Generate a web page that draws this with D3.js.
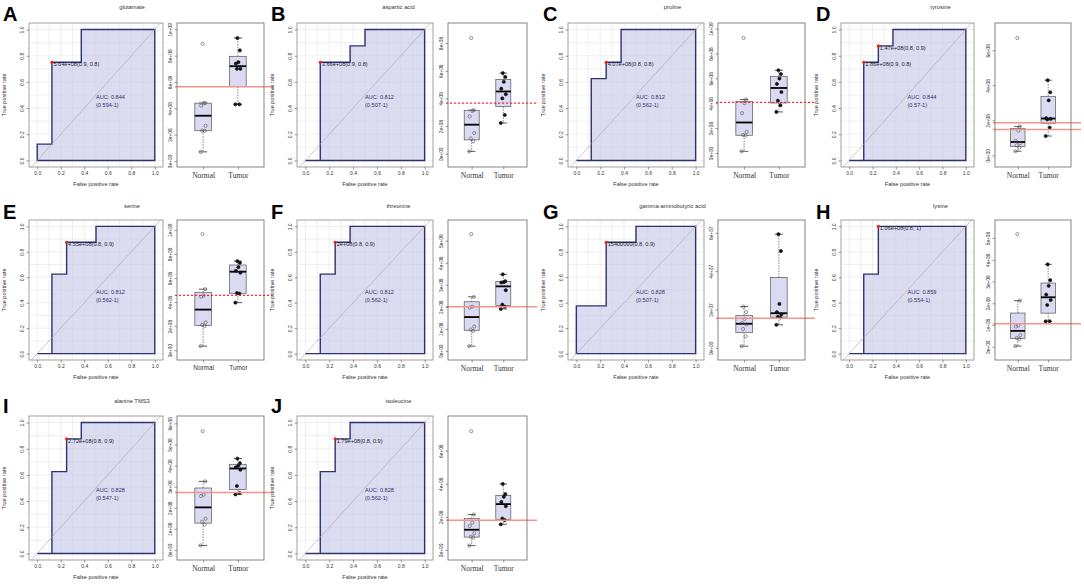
<!DOCTYPE html>
<html>
<head>
<meta charset="utf-8">
<script src="https://cdn.jsdelivr.net/npm/d3@7"></script>
<style>
  body { margin: 0; background: #fff; }
  svg { display: block; font-family: "Liberation Sans", Arial, sans-serif; }
</style>
</head>
<body>
<svg id="fig" width="1084" height="586"></svg>
<script>
// ---- data ----
const LETTERS = ['A', 'B', 'C', 'D', 'E', 'F', 'G', 'H', 'I', 'J'];
const TITLES = ['glutamate', 'aspartic acid', 'proline', 'tyrosine', 'serine', 'threonine',
  'gamma-aminobutyric acid', 'lysine', 'alanine TMS3', 'isoleucine'];
const AUC = ['0.844', '0.812', '0.812', '0.844', '0.812', '0.812', '0.828', '0.859', '0.828', '0.828'];
const AUC_CI = ['0.594-1', '0.507-1', '0.562-1', '0.57-1', '0.562-1', '0.562-1', '0.507-1', '0.554-1', '0.547-1', '0.562-1'];

// ROC step curves (false positive rate, true positive rate)
const ROC_FPR = [
  [0, 0, 0.125, 0.125, 0.375, 0.375, 1],
  [0, 0.125, 0.125, 0.375, 0.375, 0.5, 0.5, 1],
  [0, 0.125, 0.125, 0.25, 0.25, 0.375, 0.375, 1],
  [0, 0.125, 0.125, 0.25, 0.25, 0.375, 0.375, 1],
  [0, 0.125, 0.125, 0.25, 0.25, 0.5, 0.5, 1],
  [0, 0.125, 0.125, 0.25, 0.25, 0.375, 0.375, 1],
  [0, 0, 0.25, 0.25, 0.5, 0.5, 1],
  [0, 0.125, 0.125, 0.25, 0.25, 1],
  [0, 0.125, 0.125, 0.25, 0.25, 0.375, 0.375, 1],
  [0, 0.125, 0.125, 0.25, 0.25, 0.375, 0.375, 1]
];
const ROC_TPR = [
  [0, 0.125, 0.125, 0.75, 0.75, 1, 1],
  [0, 0, 0.75, 0.75, 0.875, 0.875, 1, 1],
  [0, 0, 0.625, 0.625, 0.75, 0.75, 1, 1],
  [0, 0, 0.75, 0.75, 0.875, 0.875, 1, 1],
  [0, 0, 0.625, 0.625, 0.875, 0.875, 1, 1],
  [0, 0, 0.625, 0.625, 0.875, 0.875, 1, 1],
  [0, 0.375, 0.375, 0.875, 0.875, 1, 1],
  [0, 0, 0.625, 0.625, 1, 1],
  [0, 0, 0.625, 0.625, 0.875, 0.875, 1, 1],
  [0, 0, 0.625, 0.625, 0.875, 0.875, 1, 1]
];

// best cut-off points on the curve
const CUT_FPR = [[0.125], [0.125], [0.25], [0.125, 0.25], [0.25], [0.25], [0.25], [0.25], [0.25], [0.25]];
const CUT_TPR = [[0.75], [0.75], [0.75], [0.75, 0.875], [0.875], [0.875], [0.875], [1], [0.875], [0.875]];
const CUT_TEXT = [
  ['5.64e+08(0.9, 0.8)'], ['3.66e+08(0.9, 0.8)'], ['4.07e+08(0.8, 0.8)'],
  ['1.86e+08(0.9, 0.8)', '1.47e+08(0.8, 0.9)'], ['4.55e+08(0.8, 0.9)'], ['2e+08(0.8, 0.9)'],
  ['15400000(0.8, 0.9)'], ['1.06e+08(0.8, 1)'], ['2.72e+08(0.8, 0.9)'], ['1.79e+08(0.8, 0.9)']
];
const CUTOFF = [[5.64e8], [3.66e8], [4.07e8], [1.86e8, 1.47e8], [4.55e8], [2e8], [1.54e7], [1.06e8], [2.72e8], [1.79e8]];
const CUT_DASHED = [false, true, true, false, true, false, false, false, false, false];

// boxplot samples
const NORMAL = [
  [6.9e7, 2.29e8, 2.3e8, 2.67e8, 4.2e8, 4.38e8, 4.4e8, 8.9e8],
  [1.7e7, 9e7, 1.1e8, 1.5e8, 2.7e8, 3.1e8, 3.15e8, 8.36e8],
  [1.3e7, 1.4e8, 1.45e8, 1.7e8, 3.2e8, 4.0e8, 4.3e8, 9.25e8],
  [2.3e7, 4.5e7, 5.7e7, 7.0e7, 8.2e7, 1.4e8, 1.65e8, 6.7e8],
  [3.3e7, 2.0e8, 2.1e8, 2.3e8, 4.44e8, 4.55e8, 5.07e8, 9.64e8],
  [2.1e7, 9e7, 9.6e7, 1.1e8, 1.96e8, 2.0e8, 2.45e8, 5.3e8],
  [8.6e5, 6.0e6, 9.8e6, 1.22e7, 1.29e7, 1.51e7, 1.86e7, 2.15e7],
  [3e6, 3.5e7, 4.0e7, 5.3e7, 9.3e7, 9.8e7, 2.12e8, 5.18e8],
  [2.1e7, 1.2e8, 1.34e8, 1.48e8, 2.55e8, 2.62e8, 3.25e8, 5.63e8],
  [2.6e7, 7.5e7, 8.0e7, 1.0e8, 1.44e8, 1.65e8, 2.14e8, 7.18e8]
];
const TUMOR = [
  [4.3e8, 4.3e8, 7.0e8, 7.0e8, 7.4e8, 7.5e8, 8.4e8, 9.34e8],
  [2.22e8, 2.8e8, 4.0e8, 4.3e8, 4.7e8, 5.2e8, 5.55e8, 5.83e8],
  [3.3e8, 3.83e8, 4.2e8, 4.9e8, 5.55e8, 5.98e8, 6.35e8, 6.65e8],
  [1.1e8, 1.58e8, 2.05e8, 2.08e8, 2.12e8, 3.14e8, 3.6e8, 4.29e8],
  [3.95e8, 4.7e8, 4.75e8, 6.44e8, 6.6e8, 6.9e8, 7.26e8, 7.4e8],
  [1.9e8, 2.0e8, 2.1e8, 2.75e8, 3.1e8, 3.12e8, 3.16e8, 3.47e8],
  [1.2e7, 1.58e7, 1.62e7, 1.75e7, 1.86e7, 2.29e7, 5.05e7, 5.93e7],
  [1.17e8, 1.17e8, 1.92e8, 2.15e8, 2.4e8, 2.8e8, 3.06e8, 3.79e8],
  [2.63e8, 2.7e8, 3.03e8, 3.8e8, 3.92e8, 4.0e8, 4.12e8, 4.33e8],
  [1.55e8, 1.8e8, 1.9e8, 2.64e8, 2.9e8, 3.21e8, 3.38e8, 3.99e8]
];
const GROUPS = ['Normal', 'Tumor'];
const BOX_DOMAIN = [
  [-0.46e8, 10.48e8], [-0.96e8, 9.45e8], [-1.13e8, 10.45e8], [-0.67e8, 7.56e8], [-0.82e8, 10.82e8],
  [-0.42e8, 5.94e8], [-0.636e7, 6.67e7], [-0.61e8, 5.83e8], [-0.48e8, 6.35e8], [-0.61e8, 8.1e8]
];
const BOX_TICKS = [
  [0, 2e8, 4e8, 6e8, 8e8, 1e9], [0, 2e8, 4e8, 6e8, 8e8], [0, 2e8, 4e8, 6e8, 8e8, 1e9],
  [0, 2e8, 4e8, 6e8], [0, 2e8, 4e8, 6e8, 8e8, 1e9], [0, 1e8, 2e8, 3e8, 4e8, 5e8],
  [0, 2e7, 4e7, 6e7], [0, 1e8, 2e8, 3e8, 4e8, 5e8], [0, 1e8, 2e8, 3e8, 4e8, 5e8, 6e8],
  [0, 2e8, 4e8, 6e8]
];
const ROC_TICKS = [0, 0.2, 0.4, 0.6, 0.8, 1.0];

// ---- layout ----
const COL_X = [0, 270, 540, 810];
const ROC_L = [29, 297, 568, 841];
const ROC_R = [163, 433, 704, 974];
const BOX_L = [177, 448, 718, 995];
const BOX_R = [264, 527, 805, 1071];
const ROW_TOP = [23, 220, 416];
const ROW_BOT = [167, 360, 560];
const TITLE_Y = [9, 208, 403];
const LETTER_Y = [21, 219, 413];
const LETTER_X = [3, 271, 543, 816];
const JITTER = [-2.5, 1.5, -1, 2.5, -2, 0.5, 2, -0.5];

const NAVY = '#2d3170';
const svg = d3.select('#fig');

const fmtE = v => v === 0 ? '0e+00' : v.toExponential(0).replace(/e\+(\d)$/, 'e+0$1');

// Tukey hinges, as R's fivenum / boxplot.stats
function boxStats(vals) {
  const s = vals.slice().sort(d3.ascending);
  const n = s.length;
  const n4 = Math.floor((n + 3) / 2) / 2;
  const d = [1, n4, (n + 1) / 2, n + 1 - n4, n];
  const f = d.map(k => 0.5 * (s[Math.floor(k) - 1] + s[Math.ceil(k) - 1]));
  const iqr = f[3] - f[1];
  const lo = d3.min(s.filter(v => v >= f[1] - 1.5 * iqr));
  const hi = d3.max(s.filter(v => v <= f[3] + 1.5 * iqr));
  return { q1: f[1], med: f[2], q3: f[3], lo, hi };
}

function drawRoc(g, i, L, R, T, B) {
  const x = d3.scaleLinear().domain([-0.07, 1.07]).range([L, R]);
  const y = d3.scaleLinear().domain([-0.05, 1.05]).range([B, T]);
  const grid = d3.range(0, 11).map(k => k / 10);

  g.append('g').selectAll('line').data(grid).join('line')
    .attr('x1', d => x(d)).attr('x2', d => x(d)).attr('y1', T).attr('y2', B)
    .attr('stroke', '#e6e6e6').attr('stroke-width', 0.6);
  g.append('g').selectAll('line').data(grid).join('line')
    .attr('y1', d => y(d)).attr('y2', d => y(d)).attr('x1', L).attr('x2', R)
    .attr('stroke', '#e6e6e6').attr('stroke-width', 0.6);

  const pts = ROC_FPR[i].map((f, k) => [x(f), y(ROC_TPR[i][k])]);
  pts.push([x(1), y(0)]);
  g.append('path')
    .attr('d', d3.line()(pts) + 'Z')
    .attr('fill', '#c9c9ea').attr('fill-opacity', 0.65)
    .attr('stroke', NAVY).attr('stroke-width', 1.4);

  g.append('line')
    .attr('x1', x(-0.05)).attr('y1', y(-0.05)).attr('x2', x(1.05)).attr('y2', y(1.05))
    .attr('stroke', '#a8a8a8').attr('stroke-width', 0.6);

  g.append('text').attr('x', x(0.5)).attr('y', y(0.47))
    .attr('font-size', 5.6).attr('fill', NAVY).text('AUC: ' + AUC[i]);
  g.append('text').attr('x', x(0.5)).attr('y', y(0.405))
    .attr('font-size', 5.6).attr('fill', NAVY).text('(' + AUC_CI[i] + ')');

  CUT_FPR[i].forEach((f, k) => {
    g.append('circle').attr('cx', x(f)).attr('cy', y(CUT_TPR[i][k])).attr('r', 1.6).attr('fill', '#e8231f');
    g.append('text').attr('x', x(f) + 1.5).attr('y', y(CUT_TPR[i][k]) + 4)
      .attr('font-size', 5.6).attr('fill', '#1a1a2e').text(CUT_TEXT[i][k]);
  });

  g.append('rect').attr('x', L).attr('y', T).attr('width', R - L).attr('height', B - T)
    .attr('fill', 'none').attr('stroke', '#8a8a8a').attr('stroke-width', 0.8);

  const xa = g.append('g').attr('transform', `translate(0,${B})`)
    .call(d3.axisBottom(x).tickValues(ROC_TICKS).tickFormat(d3.format('.1f')).tickSize(2.5).tickPadding(2));
  const ya = g.append('g').attr('transform', `translate(${L},0)`)
    .call(d3.axisLeft(y).tickValues(ROC_TICKS).tickFormat(d3.format('.1f')).tickSize(2.5));
  [xa, ya].forEach(a => {
    a.select('.domain').remove();
    a.selectAll('line').attr('stroke', '#555').attr('stroke-width', 0.6);
    a.selectAll('text').attr('font-size', 5).attr('fill', '#333').attr('font-family', 'Liberation Sans, Arial');
  });
  ya.selectAll('text').attr('x', 0).attr('y', -5).attr('dy', 0)
    .attr('text-anchor', 'middle').attr('transform', 'rotate(-90)');

  g.append('text').attr('x', (L + R) / 2).attr('y', B + 19).attr('text-anchor', 'middle')
    .attr('font-size', 5.6).attr('fill', '#333').text('False positive rate');
  g.append('text').attr('transform', `translate(${L - 23},${(T + B) / 2}) rotate(-90)`)
    .attr('text-anchor', 'middle').attr('font-size', 5.6).attr('fill', '#333').text('True positive rate');
}

function drawBox(g, i, L, R, T, B) {
  const x = d3.scaleLinear().domain([0.25, 2.75]).range([L, R]);
  const y = d3.scaleLinear().domain(BOX_DOMAIN[i]).range([B, T]);
  const bw = (R - L) * 0.19;
  const series = [NORMAL[i], TUMOR[i]];

  series.forEach((vals, k) => {
    const cx = x(k + 1);
    const st = boxStats(vals);
    const gg = g.append('g');
    gg.selectAll('line.wh').data([[st.q3, st.hi], [st.q1, st.lo]]).join('line')
      .attr('x1', cx).attr('x2', cx).attr('y1', d => y(d[0])).attr('y2', d => y(d[1]))
      .attr('stroke', '#555').attr('stroke-width', 0.7).attr('stroke-dasharray', '1.5,1.2');
    gg.selectAll('line.cap').data([st.hi, st.lo]).join('line')
      .attr('x1', cx - bw / 4).attr('x2', cx + bw / 4).attr('y1', d => y(d)).attr('y2', d => y(d))
      .attr('stroke', '#333').attr('stroke-width', 0.8);
    gg.append('rect').attr('x', cx - bw / 2).attr('width', bw)
      .attr('y', y(st.q3)).attr('height', y(st.q1) - y(st.q3))
      .attr('fill', '#dadaf3').attr('stroke', '#555').attr('stroke-width', 0.7);
    gg.append('line').attr('x1', cx - bw / 2).attr('x2', cx + bw / 2)
      .attr('y1', y(st.med)).attr('y2', y(st.med))
      .attr('stroke', '#000').attr('stroke-width', 1.8);
    gg.selectAll('circle').data(vals).join('circle')
      .attr('cx', (d, j) => cx + JITTER[j]).attr('cy', d => y(d)).attr('r', 1.6)
      .attr('fill', k === 0 ? 'none' : '#111')
      .attr('stroke', k === 0 ? '#555' : '#111').attr('stroke-width', 0.6);
  });

  // cut-off lines; a bit thick so the thin red keeps its colour
  CUTOFF[i].forEach(c => {
    g.append('line').attr('x1', L - 2).attr('x2', R + 10).attr('y1', y(c)).attr('y2', y(c))
      .attr('stroke', CUT_DASHED[i] ? '#f03038' : '#f3958b')
      .attr('stroke-width', CUT_DASHED[i] ? 1.3 : 1.6)
      .attr('stroke-dasharray', CUT_DASHED[i] ? '2.2,1.8' : null);
  });

  g.append('rect').attr('x', L).attr('y', T).attr('width', R - L).attr('height', B - T)
    .attr('fill', 'none').attr('stroke', '#666').attr('stroke-width', 0.8);

  const ya = g.append('g').attr('transform', `translate(${L},0)`)
    .call(d3.axisLeft(y).tickValues(BOX_TICKS[i]).tickFormat(fmtE).tickSize(2.5));
  ya.select('.domain').remove();
  ya.selectAll('line').attr('stroke', '#555').attr('stroke-width', 0.6);
  ya.selectAll('text').attr('font-size', 4.8).attr('fill', '#333').attr('font-family', 'Liberation Sans, Arial')
    .attr('x', 0).attr('y', -5).attr('dy', 0).attr('text-anchor', 'middle').attr('transform', 'rotate(-90)');

  const xa = g.append('g').attr('transform', `translate(0,${B})`)
    .call(d3.axisBottom(x).tickValues([1, 2]).tickFormat((d, k) => GROUPS[k]).tickSize(2.5).tickPadding(3));
  xa.select('.domain').remove();
  xa.selectAll('line').attr('stroke', '#555').attr('stroke-width', 0.6);
  xa.selectAll('text').attr('font-size', i === 4 ? 6.4 : 7.5).attr('fill', '#333')
    .attr('font-family', i === 4 ? 'Liberation Sans, Arial' : 'Liberation Serif, Times New Roman, serif');
}

LETTERS.forEach((letter, i) => {
  const col = i % 4, row = Math.floor(i / 4);
  const T = ROW_TOP[row], B = ROW_BOT[row];
  const g = svg.append('g').attr('class', 'panel');

  g.append('text').attr('x', LETTER_X[col]).attr('y', LETTER_Y[row])
    .attr('font-size', 20).attr('font-weight', 'bold').attr('fill', '#000').text(letter);
  g.append('text').attr('x', (COL_X[col] + BOX_R[col]) / 2).attr('y', TITLE_Y[row])
    .attr('text-anchor', 'middle').attr('font-size', 5.8).attr('fill', '#333').text(TITLES[i]);

  drawRoc(g, i, ROC_L[col], ROC_R[col], T, B);
  drawBox(g, i, BOX_L[col], BOX_R[col], T, B);
});
</script>
</body>
</html>
